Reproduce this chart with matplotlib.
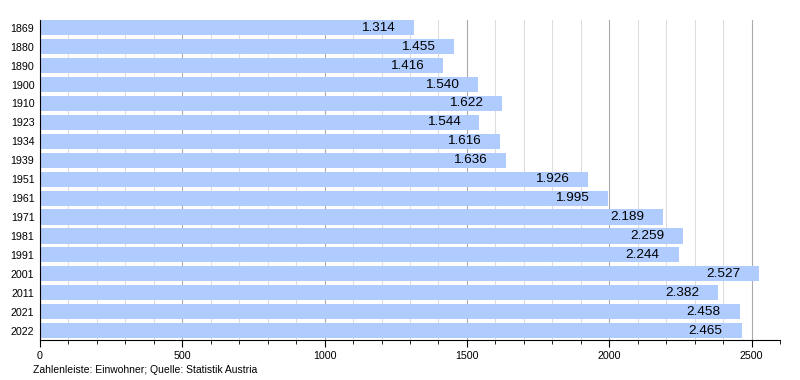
import matplotlib
matplotlib.use('Agg')
import matplotlib.pyplot as plt
from matplotlib.ticker import MultipleLocator

plt.rcParams['font.family'] = ['Liberation Sans', 'DejaVu Sans']

years = ['1869', '1880', '1890', '1900', '1910', '1923', '1934', '1939', '1951',
         '1961', '1971', '1981', '1991', '2001', '2011', '2021', '2022']
population = [1314, 1455, 1416, 1540, 1622, 1544, 1616, 1636, 1926,
              1995, 2189, 2259, 2244, 2527, 2382, 2458, 2465]

fig = plt.figure(figsize=(8, 3.8), dpi=100)
ax = fig.add_axes([0.05, 0.105, 0.925, 0.842])

pos = list(range(len(years)))
ax.barh(pos, population, height=0.8, color='#b0ccff', zorder=2)

# value labels, German thousands separator
for p, v in zip(pos, population):
    label = f"{v:,}".replace(',', '.')
    ax.annotate(label, xy=(v, p), xytext=(-19, 0), textcoords='offset pixels',
                ha='right', va='center', fontsize=9.7, color='black', zorder=3)

ax.set_yticks(pos)
ax.set_yticklabels(years, fontsize=7.7)
ax.set_ylim(16.5, -0.4)
ax.set_xlim(0, 2600)

ax.xaxis.set_major_locator(MultipleLocator(500))
ax.xaxis.set_minor_locator(MultipleLocator(100))
ax.tick_params(axis='x', which='major', labelsize=7.7, length=5, direction='out', pad=3)
ax.tick_params(axis='x', which='minor', length=3, direction='out')
ax.tick_params(axis='y', length=0, pad=4)

ax.grid(axis='x', which='minor', color='#dddddd', linewidth=0.8, zorder=0)
ax.grid(axis='x', which='major', color='#aaaaaa', linewidth=0.8, zorder=0)

for s in ['top', 'right']:
    ax.spines[s].set_visible(False)
ax.spines['left'].set_color('black')
ax.spines['bottom'].set_color('black')

fig.text(0.041, 0.018, 'Zahlenleiste: Einwohner; Quelle: Statistik Austria',
         fontsize=7.5, va='baseline')

fig.savefig('out.png', dpi=100)
